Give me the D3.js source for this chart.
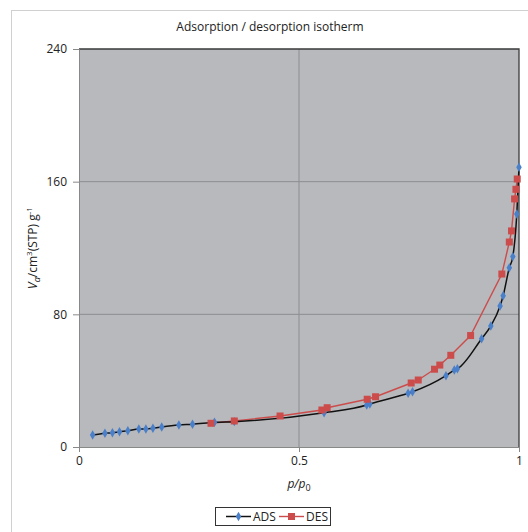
<!DOCTYPE html>
<html><head><meta charset="utf-8">
<script src="https://cdn.jsdelivr.net/npm/d3@7"></script>
<style>body{margin:0;background:#fff}svg{display:block}text{font-family:"Open Sans","Liberation Sans",sans-serif;fill:#222}</style>
</head><body><svg id="c" width="528" height="532"></svg>
<script>
const title = "Adsorption / desorption isotherm";
const xTicks = [0, 0.5, 1];
const yTicks = [0, 80, 160, 240];
const adsP = [0.031,0.059,0.076,0.092,0.111,0.136,0.152,0.168,0.188,0.227,0.258,0.308,0.353,0.557,0.654,0.661,0.748,0.758,0.834,0.853,0.860,0.915,0.936,0.957,0.964,0.978,0.986,0.995,1.0];
const adsV = [7.2,8.3,8.6,9.2,9.8,10.9,10.9,11.3,12.1,13.3,13.7,14.9,15.3,20.7,25.3,25.9,32.4,33.3,43.0,46.4,47.2,65.3,73.0,85.0,91.2,108.1,114.8,140.5,168.7];
const desP = [0.300,0.353,0.457,0.552,0.564,0.655,0.674,0.755,0.771,0.808,0.820,0.845,0.890,0.961,0.978,0.983,0.990,0.993,0.996];
const desV = [14.3,15.7,18.7,22.3,23.7,28.8,30.3,38.6,40.4,46.9,49.4,55.3,67.2,104.3,123.6,130.3,149.6,155.4,161.6];

const svg = d3.select("#c");
const L=79,R=519,T=49,B=447;
const x = d3.scaleLinear().domain([0,1]).range([L,R]);
const y = d3.scaleLinear().domain([0,240]).range([B,T]);

svg.append("rect").attr("x",11.5).attr("y",10.5).attr("width",526).attr("height",530).attr("fill","#fff").attr("stroke","#d0d0d0");
svg.append("text").attr("x",270).attr("y",31).attr("text-anchor","middle").attr("font-size",12).text(title);

svg.append("rect").attr("x",L).attr("y",T).attr("width",R-L).attr("height",B-T).attr("fill","#b7b9bc");
// grid
svg.append("g").selectAll("line").data(yTicks.slice(1,-1)).join("line")
  .attr("x1",L).attr("x2",R).attr("y1",d=>y(d)).attr("y2",d=>y(d)).attr("stroke","#8b8e91").attr("stroke-width",1);
svg.append("g").selectAll("line").data(xTicks.slice(1,-1)).join("line")
  .attr("y1",T).attr("y2",B).attr("x1",d=>x(d)).attr("x2",d=>x(d)).attr("stroke","#8b8e91").attr("stroke-width",1);
// border top/right dark
svg.append("path").attr("d",`M${L},${T}H${R}V${B}`).attr("fill","none").attr("stroke","#3a3a3a").attr("stroke-width",1.3);

const yAx = svg.append("g").attr("transform",`translate(${L},0)`).call(d3.axisLeft(y).tickValues(yTicks).tickSize(6).tickPadding(6));
yAx.select(".domain").attr("stroke","#888");
yAx.selectAll(".tick line").attr("stroke","#888");
yAx.selectAll("text").attr("font-size",12).attr("fill","#222").attr("font-family","'Open Sans',sans-serif");
const xAx = svg.append("g").attr("transform",`translate(0,${B})`).call(d3.axisBottom(x).tickValues(xTicks).tickFormat(d3.format("")).tickSize(5).tickPadding(4));
xAx.select(".domain").attr("stroke","#888");
xAx.selectAll(".tick line").attr("stroke","#888");
xAx.selectAll("text").attr("font-size",12).attr("fill","#222").attr("font-family","'Open Sans',sans-serif");

// labels
const yl = svg.append("text").attr("transform","translate(37,248) rotate(-90)").attr("text-anchor","middle").attr("font-size",12);
yl.append("tspan").attr("font-style","italic").text("V");
yl.append("tspan").attr("font-style","italic").attr("font-size",9).attr("dy",3).text("a");
yl.append("tspan").attr("dy",-3).text("/cm");
yl.append("tspan").attr("font-size",8).attr("dy",-5).text("3");
yl.append("tspan").attr("dy",5).text("(STP) g");
yl.append("tspan").attr("font-size",8).attr("dy",-5).text("-1");
const xl = svg.append("text").attr("x",299).attr("y",488).attr("text-anchor","middle").attr("font-size",12);
xl.append("tspan").attr("font-style","italic").text("p/p");
xl.append("tspan").attr("font-size",9).attr("dy",3).text("0");

const ads = adsP.map((p,i)=>[p,adsV[i]]);
const des = desP.map((p,i)=>[p,desV[i]]);
const line = d3.line().x(d=>x(d[0])).y(d=>y(d[1])).curve(d3.curveMonotoneX);
svg.append("path").attr("d",d3.line().x(d=>x(d[0])).y(d=>y(d[1]))(des)).attr("fill","none").attr("stroke","#cc4c4c").attr("stroke-width",1.4);
svg.append("path").attr("d",line(ads)).attr("fill","none").attr("stroke","#111").attr("stroke-width",1.5);
const diamond = d3.symbol().type(d3.symbolDiamond).size(26);
svg.append("g").selectAll("path").data(ads).join("path").attr("d",diamond)
  .attr("transform",d=>`translate(${x(d[0])},${y(d[1])})`).attr("fill","#4a7fc9");
svg.append("g").selectAll("rect").data(des).join("rect")
  .attr("x",d=>x(d[0])-3.5).attr("y",d=>y(d[1])-3.5).attr("width",7).attr("height",7).attr("fill","#cc4c4c");

// legend
const lg = svg.append("g");
lg.append("rect").attr("x",215.5).attr("y",507.5).attr("width",115).attr("height",18).attr("fill","#fff").attr("stroke","#333");
lg.append("line").attr("x1",226).attr("x2",251).attr("y1",516.5).attr("y2",516.5).attr("stroke","#111").attr("stroke-width",1.5);
lg.append("path").attr("d",diamond).attr("transform","translate(238.5,516.5)").attr("fill","#4a7fc9");
lg.append("text").attr("x",253).attr("y",521).attr("font-size",12).text("ADS");
lg.append("line").attr("x1",279).attr("x2",304).attr("y1",516.5).attr("y2",516.5).attr("stroke","#cc4c4c").attr("stroke-width",1.4);
lg.append("rect").attr("x",288).attr("y",513).attr("width",7).attr("height",7).attr("fill","#cc4c4c");
lg.append("text").attr("x",306).attr("y",521).attr("font-size",12).text("DES");
</script></body></html>
